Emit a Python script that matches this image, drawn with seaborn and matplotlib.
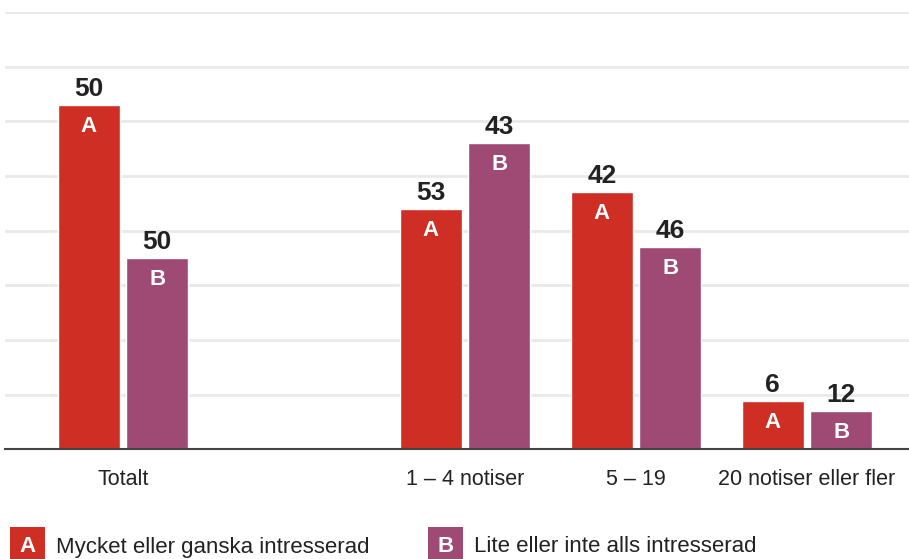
import matplotlib
matplotlib.use("Agg")
import pandas as pd
import seaborn as sns
from matplotlib import pyplot as plt
from matplotlib.patches import Rectangle

# data
categories = ["Totalt", "1 – 4 notiser", "5 – 19", "20 notiser eller fler"]
order = ["Totalt", "", "1 – 4 notiser", "5 – 19", "20 notiser eller fler"]
groups = ["A", "B"]
heights_a = [62.9, 43.9, 47.0, 8.9]
heights_b = [35.0, 56.0, 37.0, 7.0]
labels_a = ["50", "53", "42", "6"]
labels_b = ["50", "43", "46", "12"]
legend_texts = ["Mycket eller ganska intresserad", "Lite eller inte alls intresserad"]

red = "#cf2e25"
purple = "#9e4a74"

sns.set_theme(style="white")
plt.rcParams["font.family"] = ["Liberation Sans", "DejaVu Sans"]

df = pd.DataFrame({
    "kategori": categories * 2,
    "grupp": ["A"] * len(categories) + ["B"] * len(categories),
    "varde": heights_a + heights_b,
    "etikett": labels_a + labels_b,
})

fig = plt.figure(figsize=(9.09, 5.59), dpi=100)
ax = fig.add_axes([5 / 909, 0.1959, 904 / 909, 0.783])

sns.barplot(data=df, x="kategori", y="varde", hue="grupp", order=order,
            hue_order=groups, palette=[red, purple], width=0.8, gap=0.09,
            saturation=1, legend=False, ax=ax)

ax.set_xlim(-0.69, 4.596)
ax.set_ylim(0, 80)
ax.set_yticks(range(10, 81, 10))
ax.yaxis.grid(True, color="#e9e9e9", linewidth=2.0)
ax.set_axisbelow(True)
ax.tick_params(axis="y", left=False, labelleft=False)
ax.tick_params(axis="x", length=0, pad=14, labelsize=15.5, labelcolor="#222222")
ax.set_xlabel("")
ax.set_ylabel("")
for side in ["top", "left", "right"]:
    ax.spines[side].set_visible(False)
ax.spines["bottom"].set_color("#444444")
ax.spines["bottom"].set_linewidth(1.5)

# value labels and group letters
for container, grp, labs in zip(ax.containers, groups, [labels_a, labels_b]):
    for bar, lab in zip(container, labs):
        x = bar.get_x() + bar.get_width() / 2
        top = bar.get_height()
        ax.annotate(lab, (x, top), xytext=(0, 3), textcoords="offset points",
                    ha="center", va="bottom", fontsize=19, fontweight="bold",
                    color="#222222")
        ax.annotate(grp, (x, top), xytext=(0, -8), textcoords="offset points",
                    ha="center", va="top", fontsize=16, fontweight="bold",
                    color="white")

# legend at the bottom
for i, (grp, txt, col) in enumerate(zip(groups, legend_texts, [red, purple])):
    x0 = [10, 428][i] / 909
    fig.patches.append(Rectangle((x0, 0), 35 / 909, 32 / 559, transform=fig.transFigure,
                                 facecolor=col, edgecolor="none"))
    fig.text(x0 + 17.5 / 909, 13 / 559, grp, ha="center", va="center", fontsize=16,
             fontweight="bold", color="white")
    fig.text(x0 + 46 / 909, 12 / 559, txt, ha="left", va="center", fontsize=16,
             color="#222222")

fig.savefig("out.png", dpi=100)
